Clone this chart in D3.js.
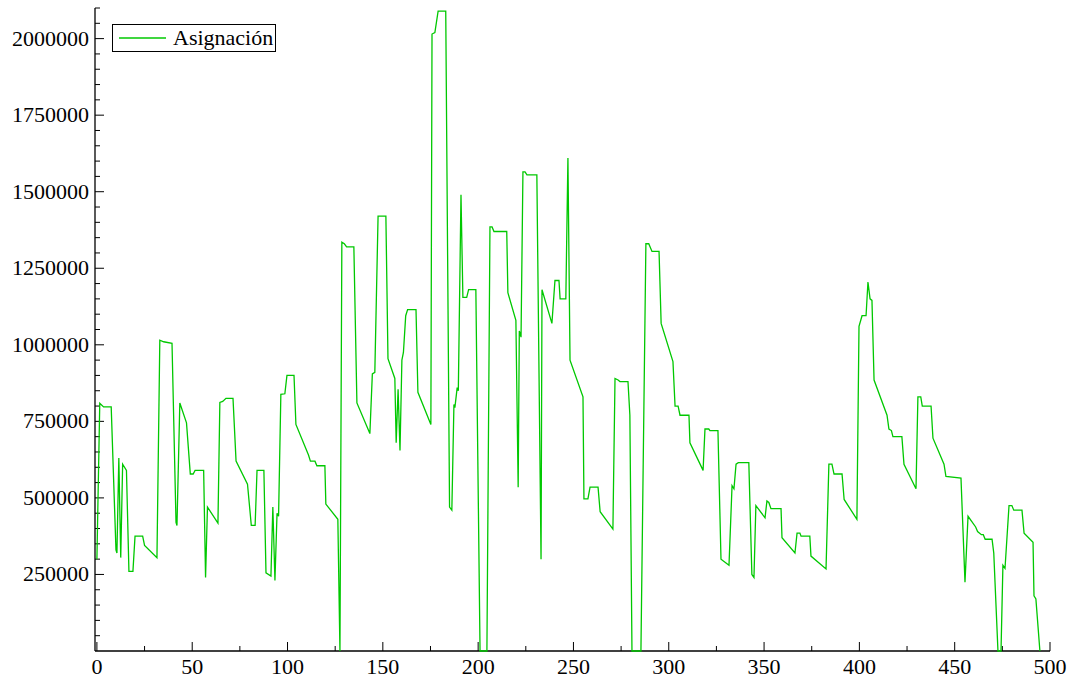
<!DOCTYPE html>
<html><head><meta charset="utf-8">
<script src="https://cdn.jsdelivr.net/npm/d3@7/dist/d3.min.js"></script>
<style>body{margin:0;background:#fff;} svg{display:block;}</style>
</head><body><svg id="c" width="1073" height="681" font-family="'Liberation Serif', 'Times New Roman', Times, 'DejaVu Serif', serif"></svg>
<script>
const seriesName = "Asignación";
const xs = [0,1.5,3.5,7.5,10,10.5,11.5,12.5,13.5,15.5,16.8,18.9,20,24,25,31.5,33,35,39.4,41.5,42,43.5,47,49,50.5,51.5,56,57,58,63.5,64.5,66,67.7,71.4,73,79,81,83,84,87.6,88.7,91.3,92.3,93.4,94.5,95.3,96.5,98.6,99.7,103.4,104.4,111,112,114.4,115.4,119.6,120.1,126.4,127.5,128.5,129.8,131,134.8,136.4,143.2,144.5,145.8,147.5,151.6,152.7,156.3,157,158,159,160,160.8,162,163,167.4,168.4,175.2,175.8,177.3,179,183,185,186.2,187.3,187.8,189,189.6,191,192,194,195,198.8,201,204.6,206.2,207.3,208.3,215,215.6,219.8,221,221.6,222.5,223.5,224.6,225.6,230.8,233,233.5,238.7,240.3,242.4,243,246,247.1,248.2,255,255.5,257.6,258.7,262.9,264,270.7,271.8,273.4,274.4,278.6,279.6,280.7,285.4,288,289.5,291.2,294.9,296,302.2,303.3,304.9,305.9,310.6,311.1,318,319,321,321.6,325.8,327.4,331.6,333.2,334.2,335.3,336.5,342,343.6,344.7,345.7,350.5,351.5,352.5,353.6,358.9,359.4,366.2,367.3,368.8,369.4,374,374.6,382.5,384,385.6,386.7,390.9,392,398.7,399.8,401.4,403.5,404.5,405.6,406.6,407.7,414.5,415.5,416.8,417.6,422.3,423.4,429.7,430.7,432.2,433,437.6,438.6,444.4,445.4,453.3,455.4,457,461,462,464,465,466,469.6,470.5,472.7,474.3,475.3,476.4,478.5,480,481,485.3,486.4,491.1,491.6,492.6,494.7];
const ys = [300000,809000,797000,797000,330000,320000,630000,305000,610000,590000,260000,260000,375000,375000,345000,305000,1015000,1010000,1005000,420000,410000,810000,745000,578000,578000,590000,590000,240000,470000,418000,812000,815000,825000,825000,620000,545000,410000,410000,590000,590000,255000,245000,470000,230000,450000,440000,838000,840000,900000,900000,740000,640000,620000,620000,605000,605000,480000,430000,0,1335000,1330000,1320000,1320000,810000,710000,905000,910000,1420000,1420000,955000,890000,680000,855000,655000,950000,975000,1095000,1115000,1115000,845000,740000,2015000,2020000,2090000,2090000,470000,460000,805000,795000,860000,850000,1490000,1155000,1155000,1180000,1180000,0,0,1385000,1385000,1370000,1370000,1170000,1080000,535000,1045000,1025000,1565000,1565000,1555000,1555000,300000,1180000,1070000,1210000,1210000,1150000,1150000,1610000,950000,830000,497000,497000,535000,535000,455000,398000,890000,885000,880000,880000,770000,0,0,1330000,1330000,1305000,1305000,1070000,945000,800000,800000,770000,770000,680000,590000,725000,725000,720000,720000,300000,280000,540000,530000,610000,615000,615000,250000,240000,475000,435000,490000,485000,465000,465000,370000,320000,385000,385000,375000,375000,310000,268000,610000,610000,578000,578000,495000,430000,1060000,1095000,1095000,1205000,1150000,1145000,885000,770000,725000,720000,700000,700000,610000,530000,830000,830000,800000,800000,695000,610000,570000,565000,225000,440000,405000,390000,380000,380000,365000,365000,320000,0,0,280000,270000,475000,475000,460000,460000,385000,355000,180000,170000,0];
const xTicks = [0,50,100,150,200,250,300,350,400,450,500];
const xMinorTicks = [25,75,125,175,225,275,325,375,425,475];
const yTicks = [250000,500000,750000,1000000,1250000,1500000,1750000,2000000];
const yMinorTicks = d3.range(50000, 2100001, 50000).filter(v => v % 250000 !== 0);

const svg = d3.select("#c");
const x = d3.scaleLinear().domain([-1, 500]).range([95, 1050]);
const y = d3.scaleLinear().domain([0, 2100000]).range([651, 8]);
const data = xs.map((v,i)=>({x:v,y:ys[i]}));

// axes
const gx = svg.append("g").attr("transform","translate(0,651)");
gx.append("line").attr("x1",95).attr("x2",1050).attr("stroke","#000").attr("stroke-width",1.3);
gx.selectAll(".mj").data(xTicks).join("line").attr("x1",d=>x(d)).attr("x2",d=>x(d)).attr("y1",0).attr("y2",-9).attr("stroke","#000");
gx.selectAll(".mn").data(xMinorTicks).join("line").attr("x1",d=>x(d)).attr("x2",d=>x(d)).attr("y1",0).attr("y2",-5).attr("stroke","#000");
gx.selectAll("text").data(xTicks).join("text").attr("x",d=>x(d)).attr("y",23).attr("text-anchor","middle").attr("font-size",22).text(d=>d);

const gy = svg.append("g").attr("transform","translate(95,0)");
gy.append("line").attr("y1",8).attr("y2",651).attr("stroke","#000").attr("stroke-width",1.3);
gy.selectAll(".mj").data(yTicks).join("line").attr("y1",d=>y(d)).attr("y2",d=>y(d)).attr("x1",0).attr("x2",9).attr("stroke","#000");
gy.selectAll(".mn").data(yMinorTicks).join("line").attr("y1",d=>y(d)).attr("y2",d=>y(d)).attr("x1",0).attr("x2",5).attr("stroke","#000");
gy.selectAll("text").data(yTicks).join("text").attr("x",-6).attr("y",d=>y(d)+7).attr("text-anchor","end").attr("font-size",22).text(d=>d);

// line
svg.append("path").datum(data).attr("fill","none").attr("stroke","#00c800").attr("stroke-width",1.3)
  .attr("d", d3.line().x(d=>x(d.x)).y(d=>y(d.y)));

// legend
const lg = svg.append("g");
lg.append("rect").attr("x",112.5).attr("y",24.5).attr("width",163).attr("height",27).attr("fill","#fff").attr("stroke","#000");
lg.append("line").attr("x1",119).attr("x2",166).attr("y1",38).attr("y2",38).attr("stroke","#00c800").attr("stroke-width",1.3);
lg.append("text").attr("x",173).attr("y",45).attr("font-size",22).text(seriesName);
</script></body></html>
